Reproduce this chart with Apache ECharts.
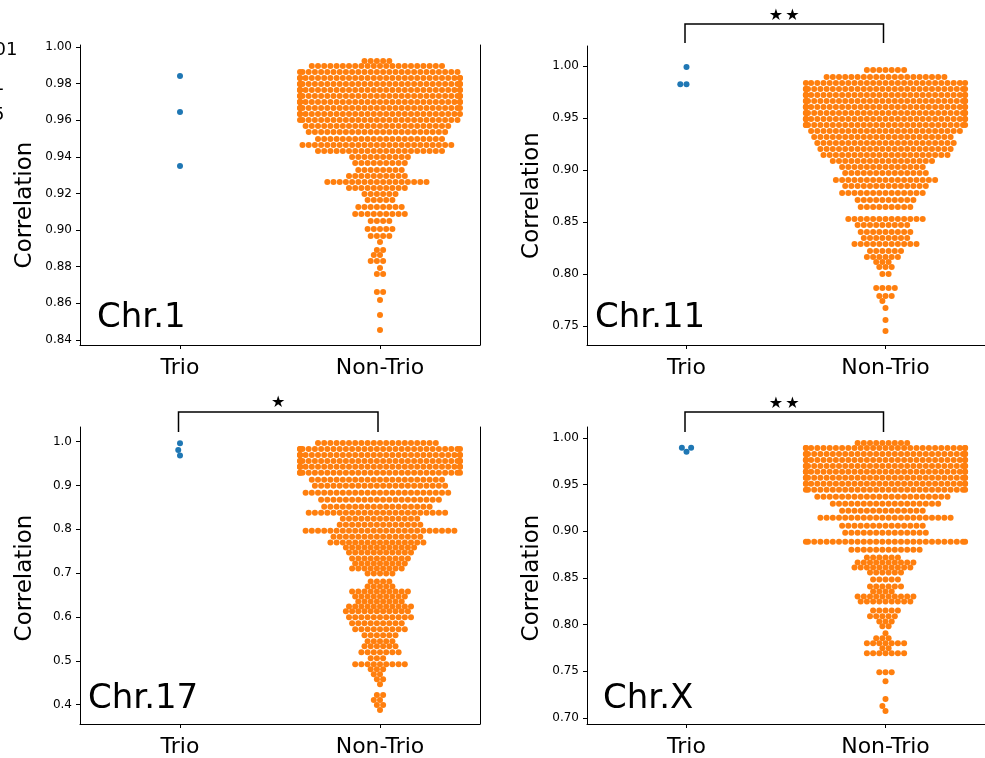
<!DOCTYPE html>
<html><head><meta charset="utf-8">
<script src="https://cdn.jsdelivr.net/npm/echarts@6/dist/echarts.min.js"></script>
<style>html,body{margin:0;padding:0;background:#fff}#c{width:985px;height:758px}</style>
</head><body><div id="c"></div>
<script>
// ---------------- DATA ----------------
const categories = ['Trio', 'Non-Trio'];
const panelTitles = ['Chr.1', 'Chr.11', 'Chr.17', 'Chr.X'];
const sigMarks = ['', '★★', '★', '★★'];
const legendLines = ['***: p < 0.001', '**: p < 0.01', '*: p < 0.05'];

// Trio samples (one value per sample)
const trio1 = [0.9842, 0.9645, 0.9350];
const trio11 = [0.9990, 0.9824, 0.9824];
const trio17 = [0.9964, 0.9811, 0.9682];
const trioX = [0.9896, 0.9896, 0.9854];

// Non-Trio samples, read as swarm rows: value of a row and number of samples in it
const nonTrio1Values = [0.9924, 0.9896, 0.9863, 0.9831, 0.9798, 0.9765, 0.9732, 0.9700, 0.9667, 0.9634, 0.9601, 0.9569, 0.9536, 0.9498, 0.9465, 0.9432, 0.9399, 0.9366, 0.9328, 0.9295, 0.9263, 0.9230, 0.9197, 0.9164, 0.9126, 0.9088, 0.9050, 0.9006, 0.8968, 0.8935, 0.8891, 0.8864, 0.8831, 0.8793, 0.8760, 0.8662, 0.8618, 0.8536, 0.8454];
const nonTrio1Counts = [5, 22, 27, 29, 30, 30, 30, 30, 29, 28, 27, 24, 23, 21, 25, 21, 10, 9, 8, 10, 17, 10, 6, 5, 8, 9, 4, 5, 4, 1, 2, 2, 3, 1, 2, 2, 1, 1, 1];

const nonTrio11Values = [0.9962, 0.9894, 0.9837, 0.9779, 0.9721, 0.9663, 0.9606, 0.9548, 0.9490, 0.9433, 0.9375, 0.9317, 0.9260, 0.9202, 0.9144, 0.9087, 0.9029, 0.8971, 0.8904, 0.8846, 0.8779, 0.8712, 0.8644, 0.8529, 0.8471, 0.8404, 0.8346, 0.8288, 0.8221, 0.8163, 0.8115, 0.8067, 0.8000, 0.7865, 0.7788, 0.7740, 0.7673, 0.7558, 0.7452];
const nonTrio11Counts = [7, 20, 27, 29, 30, 30, 30, 30, 30, 29, 25, 23, 23, 22, 21, 17, 14, 14, 17, 14, 14, 10, 9, 13, 9, 9, 8, 11, 6, 6, 3, 3, 2, 4, 3, 1, 1, 1, 1];

const nonTrio17Values = [0.9970, 0.9834, 0.9698, 0.9561, 0.9425, 0.9289, 0.9130, 0.8993, 0.8834, 0.8675, 0.8516, 0.8380, 0.8243, 0.8107, 0.7970, 0.7834, 0.7698, 0.7584, 0.7470, 0.7334, 0.7220, 0.7107, 0.6993, 0.6811, 0.6698, 0.6584, 0.6470, 0.6357, 0.6243, 0.6130, 0.5993, 0.5857, 0.5720, 0.5584, 0.5448, 0.5334, 0.5198, 0.5061, 0.4925, 0.4811, 0.4698, 0.4584, 0.4470, 0.4220, 0.4107, 0.3993, 0.3879];
const nonTrio17Counts = [20, 29, 30, 30, 30, 29, 22, 22, 24, 20, 18, 23, 13, 14, 25, 15, 16, 12, 11, 10, 9, 9, 5, 4, 5, 10, 9, 8, 11, 11, 11, 9, 9, 6, 5, 6, 7, 3, 9, 3, 2, 2, 1, 2, 2, 2, 1];

const nonTrioXValues = [0.9947, 0.9893, 0.9829, 0.9765, 0.9701, 0.9637, 0.9573, 0.9509, 0.9444, 0.9370, 0.9295, 0.9220, 0.9145, 0.9060, 0.8985, 0.8889, 0.8803, 0.8718, 0.8665, 0.8611, 0.8558, 0.8483, 0.8408, 0.8355, 0.8301, 0.8248, 0.8152, 0.8088, 0.8034, 0.7981, 0.7906, 0.7853, 0.7799, 0.7746, 0.7692, 0.7489, 0.7393, 0.7201, 0.7126, 0.7073];
const nonTrioXCounts = [9, 29, 30, 30, 30, 30, 30, 29, 28, 22, 18, 14, 22, 14, 14, 28, 12, 6, 10, 10, 6, 5, 6, 4, 10, 9, 5, 5, 3, 2, 1, 3, 7, 2, 7, 3, 1, 1, 1, 1];

// y tick labels
const ticks1 = [0.84, 0.86, 0.88, 0.90, 0.92, 0.94, 0.96, 0.98, 1.00];
const ticks11 = [0.75, 0.80, 0.85, 0.90, 0.95, 1.00];
const ticks17 = [0.4, 0.5, 0.6, 0.7, 0.8, 0.9, 1.0];
const ticksX = [0.70, 0.75, 0.80, 0.85, 0.90, 0.95, 1.00];

// ---------------- LAYOUT ----------------
const FONT = '"DejaVu Sans", "Liberation Sans", sans-serif';
const BLUE = '#1f77b4', ORANGE = '#ff7f0e';
const RADIUS = 2.95;     // collision radius (px) for the small Trio swarm
const STEP = 6.2;        // horizontal spacing of points inside a swarm row (px)

function expandRows(vals, cnts) {
  const out = [];
  vals.forEach((v, i) => { for (let k = 0; k < cnts[i]; k++) out.push(v); });
  return out;
}

const panels = [
  {left: 80, top: 45, height: 300, min: 0.8372, max: 1.0011, ticks: ticks1, dec: 2, trio: trio1,
   rowsV: nonTrio1Values, rowsC: nonTrio1Counts, title: {x: 97, y: 318}, labelDy: 10, sig: null},
  {left: 587, top: 46, height: 299, min: 0.7317, max: 1.0192, ticks: ticks11, dec: 2, trio: trio11,
   rowsV: nonTrio11Values, rowsC: nonTrio11Counts, title: {x: 595, y: 318}, labelDy: 0, sig: {lineY: 24, legY: 43, starY: 16}},
  {left: 80, top: 427, height: 298, min: 0.3561, max: 1.0334, ticks: ticks17, dec: 1, trio: trio17,
   rowsV: nonTrio17Values, rowsC: nonTrio17Counts, title: {x: 88, y: 699}, labelDy: 2, sig: {lineY: 412, legY: 432, starY: 403}},
  {left: 587, top: 427, height: 298, min: 0.6934, max: 1.0118, ticks: ticksX, dec: 2, trio: trioX,
   rowsV: nonTrioXValues, rowsC: nonTrioXCounts, title: {x: 603, y: 699}, labelDy: 2, sig: {lineY: 412, legY: 432, starY: 404}}
];

const axisLineStyle = {color: '#000', width: 1};
const option = {
  animation: false,
  backgroundColor: '#fff',
  grid: panels.map(p => ({left: p.left, top: p.top, width: 400, height: p.height})),
  xAxis: panels.map((p, i) => ({
    type: 'value', gridIndex: i, min: -0.5, max: 1.5,
    axisLine: {show: true, onZero: false, lineStyle: axisLineStyle},
    axisTick: {show: true, customValues: [0, 1], length: 4, lineStyle: axisLineStyle},
    axisLabel: {customValues: [0, 1], formatter: v => categories[Math.round(v)], fontSize: 22, fontFamily: FONT, color: '#000', margin: 12},
    splitLine: {show: false}
  })),
  yAxis: panels.flatMap((p, i) => ([
    {type: 'value', gridIndex: i, position: 'left', min: p.min, max: p.max,
     axisLine: {show: true, onZero: false, lineStyle: axisLineStyle},
     axisTick: {show: true, customValues: p.ticks, length: 4, lineStyle: axisLineStyle},
     axisLabel: {customValues: p.ticks, formatter: v => v.toFixed(p.dec), fontSize: 12, fontFamily: FONT, color: '#000', margin: 8},
     splitLine: {show: false}},
    {type: 'value', gridIndex: i, position: 'right', min: p.min, max: p.max,
     axisLine: {show: true, onZero: false, lineStyle: axisLineStyle},
     axisTick: {show: false}, axisLabel: {show: false}, splitLine: {show: false}}
  ])),
  series: panels.flatMap((p, i) => ([
    {type: 'scatter', name: 'Trio', xAxisIndex: i, yAxisIndex: 2 * i, symbolSize: 6, itemStyle: {color: BLUE, opacity: 1}, data: []},
    {type: 'scatter', name: 'Non-Trio', xAxisIndex: i, yAxisIndex: 2 * i, symbolSize: 6, itemStyle: {color: ORANGE, opacity: 1}, data: []}
  ]))
};

const chart = echarts.init(document.getElementById('c'), null, {renderer: 'canvas'});
chart.setOption(option);

function axisInfo(catIdx, i, v) {
  const finder = {xAxisIndex: i, yAxisIndex: 2 * i};
  const p0 = chart.convertToPixel(finder, [catIdx, v]);
  const p1 = chart.convertToPixel(finder, [catIdx + 1, v]);
  return {finder, cx: p0[0], pxPerUnit: p1[0] - p0[0]};
}

// Seaborn-like beeswarm (used for the small Trio groups)
function swarm(values, catIdx, i) {
  const {finder, cx, pxPerUnit} = axisInfo(catIdx, i, values[0]);
  const d = 2 * RADIUS;
  const pts = values.map((v, k) => ({v, k, y: chart.convertToPixel(finder, [catIdx, v])[1]}))
    .sort((a, b) => (a.v - b.v) || (a.k - b.k));
  const placed = [];
  pts.forEach((p, idx) => {
    if (idx === 0) { placed.push({x: cx, y: p.y, v: p.v}); return; }
    const nb = placed.filter(q => Math.abs(q.y - p.y) < d);
    const cands = [cx];
    let leftFirst = true;
    nb.forEach(q => {
      const dy = p.y - q.y;
      const dx = Math.sqrt(Math.max(d * d - dy * dy, 0)) * 1.05;
      if (leftFirst) cands.push(q.x - dx, q.x + dx); else cands.push(q.x + dx, q.x - dx);
      leftFirst = !leftFirst;
    });
    const order = cands.map((x, k) => ({x, k, o: Math.abs(x - cx)})).sort((a, b) => (a.o - b.o) || (a.k - b.k));
    let chosen = order[order.length - 1].x;
    for (const c of order) {
      let ok = true;
      for (const q of nb) {
        const ddx = c.x - q.x, ddy = p.y - q.y;
        if (ddx * ddx + ddy * ddy < d * d - 1e-6) { ok = false; break; }
      }
      if (ok) { chosen = c.x; break; }
    }
    placed.push({x: chosen, y: p.y, v: p.v});
  });
  const hw = 0.4 * pxPerUnit;
  return placed.map(q => [catIdx + Math.max(-hw, Math.min(hw, q.x - cx)) / pxPerUnit, q.v]);
}

// Row swarm for the large Non-Trio groups: each row is spread from the centre outwards,
// neighbouring rows staggered by half a step (hexagonal packing), overflow kept at the edges.
function rowSwarm(rowVals, rowCnts, catIdx, i) {
  const {finder, pxPerUnit} = axisInfo(catIdx, i, rowVals[0]);
  const hw = 0.4 * pxPerUnit;
  const rows = rowVals.map((v, j) => ({v, n: rowCnts[j], y: chart.convertToPixel(finder, [catIdx, v])[1]}))
    .sort((a, b) => b.y - a.y);
  const out = [];
  let prev = null;
  rows.forEach(r => {
    let parity;
    if (prev && Math.abs(prev.y - r.y) < 8) parity = 1 - prev.parity;
    else parity = (r.n % 2 === 1) ? 0 : 1;
    r.parity = parity;
    for (let k = 0; k < r.n; k++) {
      let off;
      if (parity === 0) {
        const m = Math.ceil(k / 2);
        off = (k === 0) ? 0 : (k % 2 === 1 ? -m : m) * STEP;
      } else {
        const m = Math.floor(k / 2) + 0.5;
        off = (k % 2 === 0 ? -m : m) * STEP;
      }
      off = Math.max(-hw, Math.min(hw, off));
      out.push([catIdx + off / pxPerUnit, r.v]);
    }
    prev = r;
  });
  return out;
}

const seriesData = [];
panels.forEach((p, i) => {
  seriesData.push({data: swarm(p.trio, 0, i)});
  seriesData.push({data: rowSwarm(p.rowsV, p.rowsC, 1, i)});
});

// annotations
const graphics = [];
function txt(x, y, text, size, opts) {
  opts = opts || {};
  graphics.push({type: 'text', x, y, rotation: opts.rotation || 0, silent: true,
    style: {text, font: size + 'px ' + FONT, fill: '#000',
      textAlign: opts.align || 'left', align: opts.align || 'left',
      textVerticalAlign: 'middle', verticalAlign: 'middle'}});
}
panels.forEach((p, i) => {
  const finder = {xAxisIndex: i, yAxisIndex: 2 * i};
  txt(p.left - 55, p.top + p.height / 2 + p.labelDy, 'Correlation', 23, {align: 'center', rotation: Math.PI / 2});
  txt(p.title.x, p.title.y, panelTitles[i], 34);
  if (p.sig) {
    const xa = chart.convertToPixel(finder, [0, p.max])[0] - 1.5;
    const xb = chart.convertToPixel(finder, [1, p.max])[0] - 2;
    graphics.push({type: 'polyline', silent: true,
      shape: {points: [[xa, p.sig.legY], [xa, p.sig.lineY], [xb, p.sig.lineY], [xb, p.sig.legY]]},
      style: {stroke: '#000', lineWidth: 1.5, fill: null}});
    const stars = sigMarks[i];
    const mid = (xa + xb) / 2;
    const n = stars.length;
    for (let s = 0; s < n; s++) {
      txt(mid + (s - (n - 1) / 2) * 16.5, p.sig.starY, stars[s], 16, {align: 'center'});
    }
  }
});
txt(17.5, 50, legendLines[0], 18, {align: 'right'});
txt(4.5, 85, legendLines[1], 18, {align: 'right'});
txt(4.5, 115, legendLines[2], 18, {align: 'right'});

chart.setOption({series: seriesData, graphic: {elements: graphics}});
</script>
</body></html>
